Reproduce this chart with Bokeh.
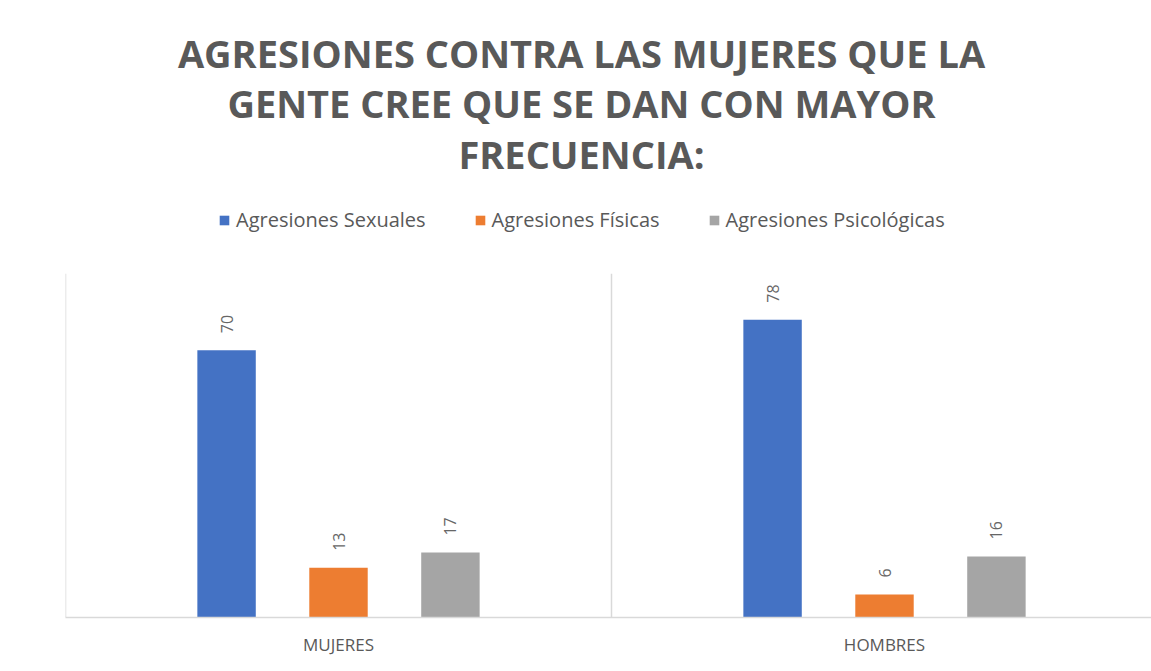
import math
from bokeh.plotting import figure
from bokeh.models import (Range1d, FixedTicker, Legend, LegendItem, Label,
                          ColumnDataSource)
from bokeh.transform import dodge
from bokeh.core.properties import value
from bokeh.embed import file_html
from bokeh.resources import INLINE

# ---- data ----
categories = ["MUJERES", "HOMBRES"]
series_names = ["Agresiones Sexuales", "Agresiones Físicas", "Agresiones Psicológicas"]
sexuales = [70, 78]
fisicas = [13, 6]
psicologicas = [17, 16]
colors = ["#4472C4", "#ED7D31", "#A5A5A5"]
title_lines = ["AGRESIONES CONTRA LAS MUJERES QUE LA",
               "GENTE CREE QUE SE DAN CON MAYOR",
               "FRECUENCIA:"]
axis_max = 90

FONT = "Open Sans"
TXT = "#595959"

cat_pos = [i + 0.5 for i in range(len(categories))]
source = ColumnDataSource(dict(x=cat_pos, sex=sexuales, fis=fisicas, psi=psicologicas,
                               sex_t=[str(v) for v in sexuales],
                               fis_t=[str(v) for v in fisicas],
                               psi_t=[str(v) for v in psicologicas]))

p = figure(width=1151, height=671, output_backend="svg", toolbar_location=None,
           x_range=Range1d(0, 1086 / 546), y_range=Range1d(0, 161.6),
           y_axis_location=None,
           min_border_left=65, min_border_right=0, min_border_top=0,
           min_border_bottom=54)
p.outline_line_color = None
p.background_fill_color = "white"
p.border_fill_color = "white"
p.xgrid.grid_line_color = None
p.ygrid.grid_line_color = None

# category separators (vertical gridlines between categories)
bounds = list(range(len(categories) + 1))
p.segment(x0=bounds, y0=[0] * len(bounds), x1=bounds, y1=[axis_max] * len(bounds),
          line_color="#d9d9d9", line_width=1.5)

offsets = [-0.205, 0.0, 0.205]
fields = ["sex", "fis", "psi"]
renderers = []
for off, f, c in zip(offsets, fields, colors):
    r = p.vbar(x=dodge("x", off, range=p.x_range), top=f, width=0.107, bottom=0,
               source=source, fill_color=c, line_color=None)
    renderers.append(r)
    p.text(x=dodge("x", off, range=p.x_range), y=f, text=f + "_t", source=source,
           angle=math.pi / 2, text_align="left", text_baseline="middle",
           y_offset=-17, text_font=value(FONT), text_font_size="16px",
           text_color="#666666")

# x axis
p.xaxis.ticker = FixedTicker(ticks=cat_pos)
p.xaxis.major_label_overrides = {pos: c for pos, c in zip(cat_pos, categories)}
p.xaxis.major_tick_line_color = None
p.xaxis.minor_tick_line_color = None
p.xaxis.major_tick_out = 0
p.xaxis.major_tick_in = 0
p.xaxis.axis_line_color = "#d9d9d9"
p.xaxis.axis_line_width = 1.5
p.xaxis.major_label_standoff = 15
p.xaxis.major_label_text_font = FONT
p.xaxis.major_label_text_font_size = "17px"
p.xaxis.major_label_text_color = TXT

# legend
legend = Legend(items=[LegendItem(label=n, renderers=[r]) for n, r in zip(series_names, renderers)],
                orientation="horizontal", location=(153, 384),
                glyph_width=12, glyph_height=12, label_height=12,
                label_standoff=6, spacing=48, padding=0, margin=0,
                border_line_color=None, background_fill_alpha=0,
                label_text_font=FONT, label_text_font_size="20px",
                label_text_color=TXT)
p.add_layout(legend, "center")

# title
for line, y in zip(title_lines, [565, 515, 464]):
    p.add_layout(Label(x=516, y=y, x_units="screen", y_units="screen", text=line,
                       text_align="center", text_baseline="middle",
                       text_font=FONT, text_font_size="38px", text_font_style="bold",
                       text_color=TXT))

open("out.html", "w").write(file_html(p, INLINE))
